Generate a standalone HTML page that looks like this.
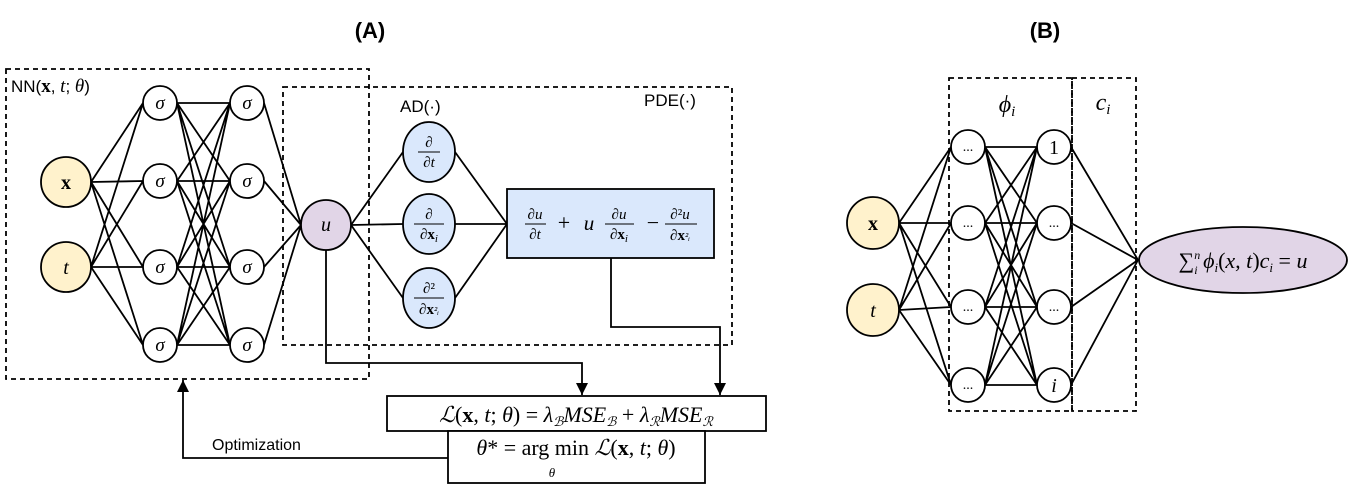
<!DOCTYPE html>
<html><head><meta charset="utf-8"><style>
body{margin:0;background:#fff}
svg{display:block}
.s{font-family:"Liberation Serif",serif}
.a{font-family:"Liberation Sans",sans-serif}
</style></head><body>
<svg width="1350" height="494" viewBox="0 0 1350 494" xmlns="http://www.w3.org/2000/svg">
<defs><marker id="ar" markerWidth="14" markerHeight="14" refX="12" refY="6" orient="auto" markerUnits="userSpaceOnUse"><path d="M0,0 L12,6 L0,12 z" fill="#000"/></marker></defs>
<text x="370" y="38" class="a" font-size="22" font-weight="bold" text-anchor="middle">(A)</text>
<text x="1045" y="38" class="a" font-size="22" font-weight="bold" text-anchor="middle">(B)</text>
<g stroke="#000" stroke-width="1.8" fill="none">
<path d="M91,182L143,103M91,182L143,181M91,182L143,267M91,182L143,345M91,267L143,103M91,267L143,181M91,267L143,267M91,267L143,345"/>
<path d="M177,103L230,103M177,103L230,181M177,103L230,267M177,103L230,345M177,181L230,103M177,181L230,181M177,181L230,267M177,181L230,345M177,267L230,103M177,267L230,181M177,267L230,267M177,267L230,345M177,345L230,103M177,345L230,181M177,345L230,267M177,345L230,345"/>
<path d="M264,103L301,225M264,181L301,225M264,267L301,225M264,345L301,225"/>
<path d="M351,225L403,152M351,225L403,224M351,225L403,298M455,152L507,224M455,224L507,224M455,298L507,224"/>
<rect x="6" y="69" width="363" height="310" stroke-dasharray="5,4"/>
<rect x="283" y="87" width="449" height="258" stroke-dasharray="5,4"/>
<path d="M326,250V363H582V395" marker-end="url(#ar)"/>
<path d="M611,258V327H720V395" marker-end="url(#ar)"/>
<path d="M448,458H183V380" marker-end="url(#ar)"/>
<path d="M899,223L951,147M899,223L951,223M899,223L951,307M899,223L951,385M899,310L951,147M899,310L951,223M899,310L951,307M899,310L951,385"/>
<path d="M985,147L1037,147M985,147L1037,223M985,147L1037,307M985,147L1037,385M985,223L1037,147M985,223L1037,223M985,223L1037,307M985,223L1037,385M985,307L1037,147M985,307L1037,223M985,307L1037,307M985,307L1037,385M985,385L1037,147M985,385L1037,223M985,385L1037,307M985,385L1037,385"/>
<path d="M1071,147L1138,260M1071,223L1138,260M1071,307L1138,260M1071,385L1138,260"/>
<rect x="949" y="78" width="123" height="333" stroke-dasharray="5,4"/>
<rect x="1072" y="78" width="64" height="333" stroke-dasharray="5,4"/>
</g>
<g stroke="#000" stroke-width="1.8">
<circle cx="66" cy="182" r="25" fill="#fff2cc"/>
<circle cx="66" cy="267" r="25" fill="#fff2cc"/>
<g fill="#fff">
<circle cx="160" cy="103" r="17"/><circle cx="160" cy="181" r="17"/><circle cx="160" cy="267" r="17"/><circle cx="160" cy="345" r="17"/>
<circle cx="247" cy="103" r="17"/><circle cx="247" cy="181" r="17"/><circle cx="247" cy="267" r="17"/><circle cx="247" cy="345" r="17"/>
</g>
<circle cx="326" cy="225" r="25" fill="#e1d5e7"/>
<g fill="#dae8fc"><ellipse cx="429" cy="152" rx="26" ry="30"/><ellipse cx="429" cy="224" rx="26" ry="30"/><ellipse cx="429" cy="298" rx="26" ry="30"/>
<rect x="507" y="189" width="207" height="69"/></g>
<rect x="387" y="396" width="379" height="35" fill="#fff"/>
<rect x="448" y="431" width="257" height="52" fill="#fff"/>
<circle cx="873" cy="223" r="26" fill="#fff2cc"/>
<circle cx="873" cy="310" r="26" fill="#fff2cc"/>
<g fill="#fff">
<circle cx="968" cy="147" r="17"/><circle cx="968" cy="223" r="17"/><circle cx="968" cy="307" r="17"/><circle cx="968" cy="385" r="17"/>
<circle cx="1054" cy="147" r="17"/><circle cx="1054" cy="223" r="17"/><circle cx="1054" cy="307" r="17"/><circle cx="1054" cy="385" r="17"/>
</g>
<ellipse cx="1243" cy="260" rx="104" ry="33" fill="#e1d5e7"/>
</g>
<g class="s" font-size="20" text-anchor="middle" font-style="italic">
<text x="66" y="189" font-weight="bold" font-style="normal">x</text>
<text x="66" y="274">t</text>
<g font-size="19"><text x="160" y="109">σ</text><text x="160" y="187">σ</text><text x="160" y="273">σ</text><text x="160" y="351">σ</text>
<text x="247" y="109">σ</text><text x="247" y="187">σ</text><text x="247" y="273">σ</text><text x="247" y="351">σ</text></g>
<text x="326" y="231">u</text>
<text x="873" y="230" font-weight="bold" font-style="normal">x</text>
<text x="873" y="317">t</text>
<g font-size="14" font-style="normal"><text x="968" y="151">...</text><text x="968" y="227">...</text><text x="968" y="311">...</text><text x="968" y="389">...</text>
<text x="1054" y="227">...</text><text x="1054" y="311">...</text></g>
<text x="1054" y="154" font-style="normal">1</text>
<text x="1054" y="392">i</text>
<text x="1007" y="112" font-size="24">ϕ<tspan font-size="15" dy="4">i</tspan></text>
<text x="1103" y="110" font-size="24">c<tspan font-size="15" dy="4">i</tspan></text>
<text x="1243" y="268" font-size="22"><tspan font-style="normal">∑</tspan><tspan font-size="12" dy="-9">n</tspan><tspan font-size="12" dx="-6" dy="15">i</tspan><tspan dy="-6"> ϕ</tspan><tspan font-size="13" dy="4">i</tspan><tspan dy="-4" font-style="normal">(</tspan>x, t<tspan font-style="normal">)</tspan>c<tspan font-size="13" dy="4">i</tspan><tspan dy="-4" font-style="normal"> = </tspan>u</text>
</g>
<g class="s" font-size="15" text-anchor="middle">
<text x="429" y="147">∂</text><line x1="418" y1="152" x2="440" y2="152" stroke="#000"/><text x="429" y="167" font-style="italic">∂t</text>
<text x="429" y="219">∂</text><line x1="414" y1="224" x2="444" y2="224" stroke="#000"/><text x="429" y="239">∂<tspan font-weight="bold">x</tspan><tspan font-size="11" font-style="italic" dy="3">i</tspan></text>
<text x="429" y="293">∂²</text><line x1="414" y1="298" x2="444" y2="298" stroke="#000"/><text x="429" y="314">∂<tspan font-weight="bold">x</tspan><tspan font-size="11" font-style="italic">²ᵢ</tspan></text>
<text x="535" y="219" font-style="italic">∂u</text><line x1="525" y1="224" x2="546" y2="224" stroke="#000"/><text x="535" y="239" font-style="italic">∂t</text>
<text x="564" y="230" font-size="22">+</text><text x="589" y="230" font-size="21" font-style="italic">u</text>
<text x="619" y="219" font-style="italic">∂u</text><line x1="605" y1="224" x2="634" y2="224" stroke="#000"/><text x="619" y="239">∂<tspan font-weight="bold">x</tspan><tspan font-size="11" font-style="italic" dy="3">i</tspan></text>
<text x="653" y="230" font-size="22">−</text>
<text x="680" y="219">∂²<tspan font-style="italic">u</tspan></text><line x1="665" y1="224" x2="697" y2="224" stroke="#000"/><text x="680" y="240">∂<tspan font-weight="bold">x</tspan><tspan font-size="11" font-style="italic">²ᵢ</tspan></text>
</g>
<text x="576" y="422" class="s" font-size="22" text-anchor="middle"><tspan font-style="italic">ℒ</tspan>(<tspan font-weight="bold">x</tspan>, <tspan font-style="italic">t</tspan>; <tspan font-style="italic">θ</tspan>) = <tspan font-style="italic">λ</tspan><tspan font-size="13" font-style="italic" dy="4">ℬ</tspan><tspan dy="-4" font-style="italic">MSE</tspan><tspan font-size="13" font-style="italic" dy="4">ℬ</tspan><tspan dy="-4"> + </tspan><tspan font-style="italic">λ</tspan><tspan font-size="13" font-style="italic" dy="4">ℛ</tspan><tspan dy="-4" font-style="italic">MSE</tspan><tspan font-size="13" font-style="italic" dy="4">ℛ</tspan></text>
<text x="576" y="455" class="s" font-size="22" text-anchor="middle"><tspan font-style="italic">θ</tspan>* = arg min <tspan font-style="italic">ℒ</tspan>(<tspan font-weight="bold">x</tspan>, <tspan font-style="italic">t</tspan>; <tspan font-style="italic">θ</tspan>)</text>
<text x="552" y="477" class="s" font-size="13" font-style="italic" text-anchor="middle">θ</text>
<g class="a" font-size="17">
<text x="11" y="92">NN(<tspan class="s" font-weight="bold" font-size="19">x</tspan>, <tspan class="s" font-style="italic" font-size="19">t</tspan>; <tspan class="s" font-style="italic" font-size="19">θ</tspan>)</text>
<text x="400" y="112">AD(·)</text>
<text x="644" y="106">PDE(·)</text>
<text x="212" y="450" font-size="16">Optimization</text>
</g>
</svg>
</body></html>
